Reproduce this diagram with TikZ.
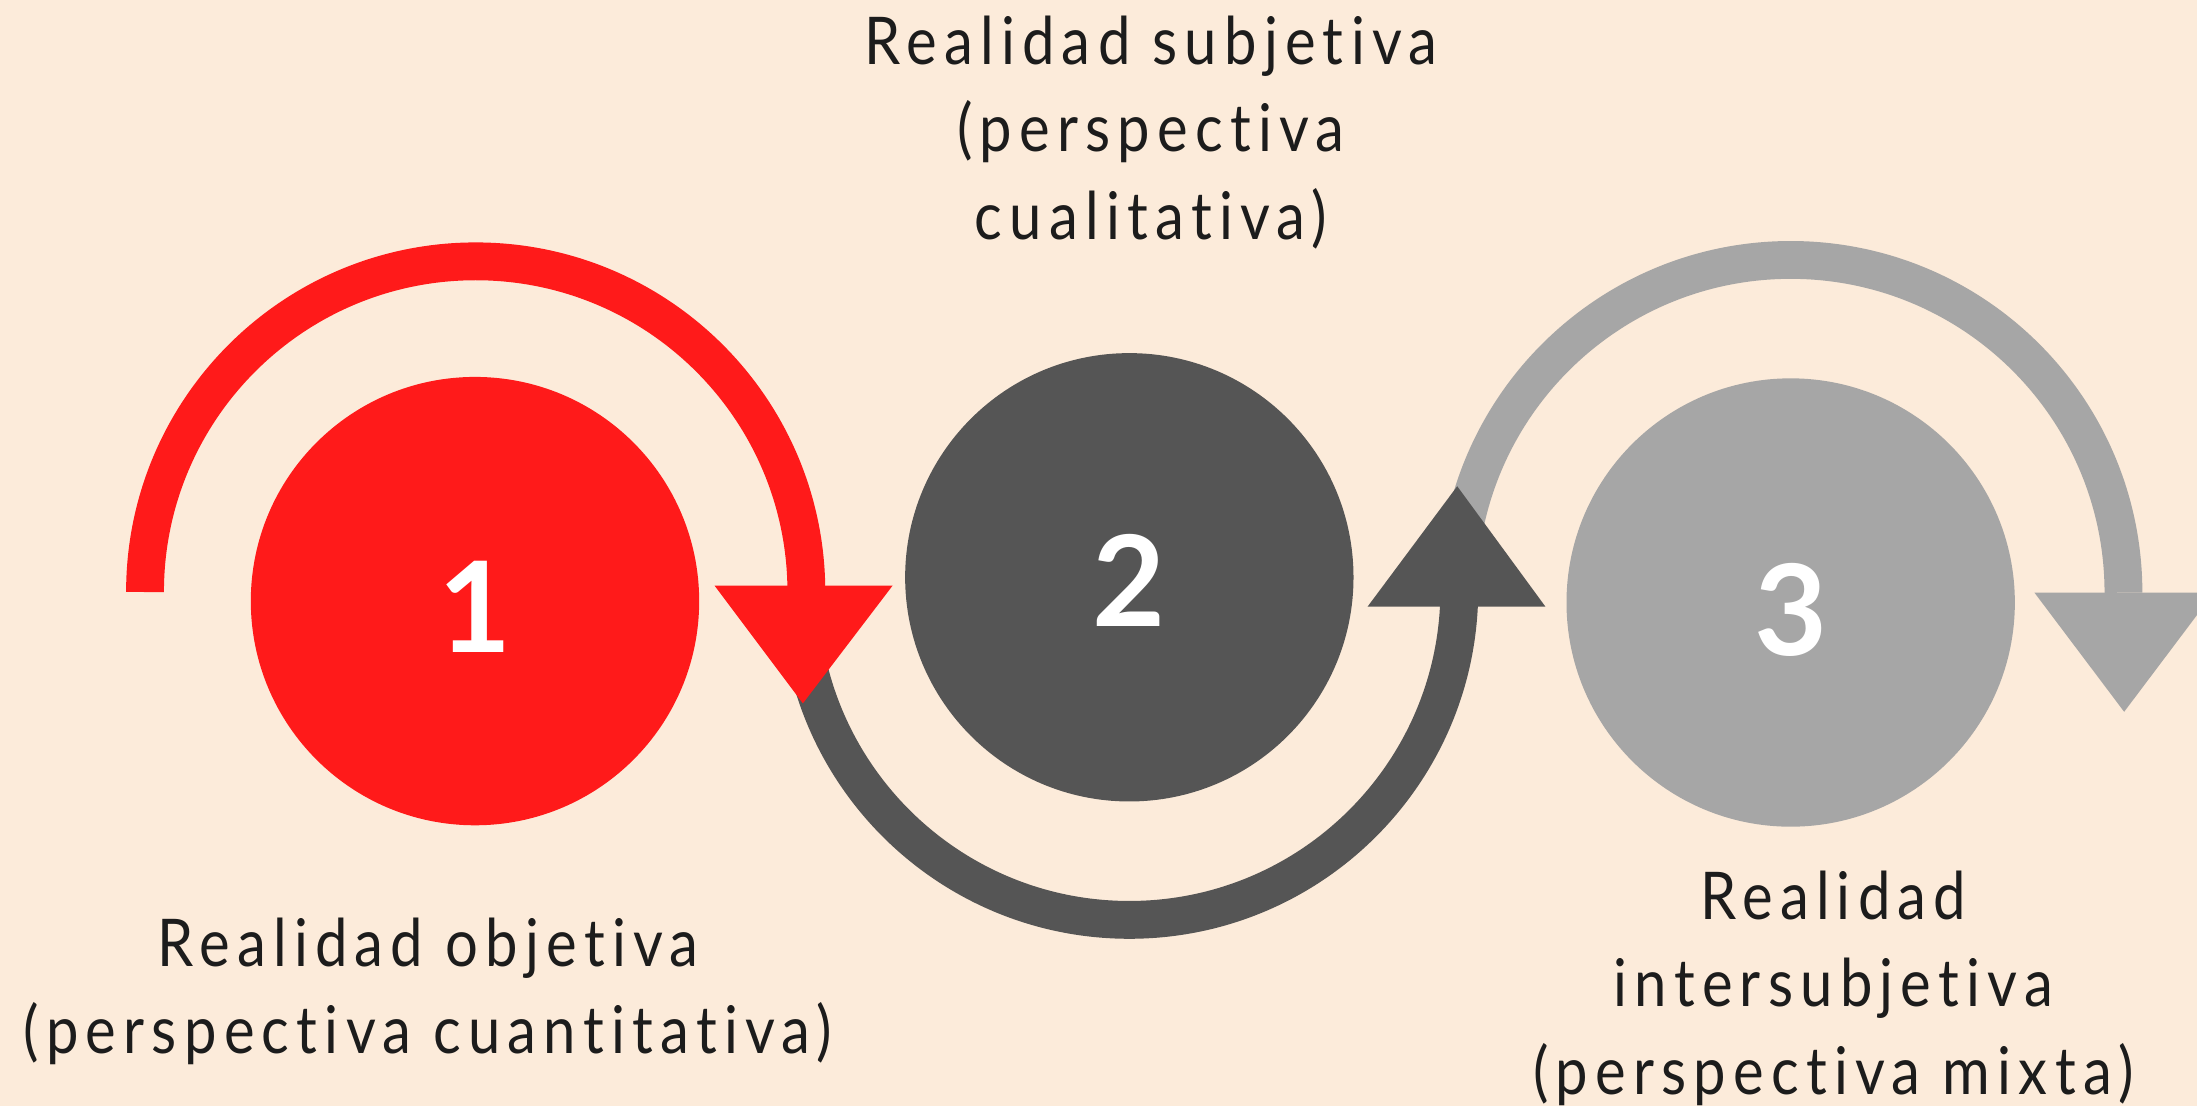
\documentclass[tikz,border=0pt]{standalone}
\usepackage{fontspec}
\setmainfont{Lato}
\newfontfamily\lblfont[Ligatures=NoCommon,FakeStretch=0.88,LetterSpace=11]{Lato}
\definecolor{bgc}{HTML}{FCEBDA}
\definecolor{redc}{HTML}{FF1A1A}
\definecolor{darkc}{HTML}{555555}
\definecolor{grayc}{HTML}{A6A6A6}
\definecolor{txtc}{HTML}{1C1C1C}
\begin{document}
\begin{tikzpicture}[x=0.5pt,y=-0.5pt,
  disc/.style={circle,inner sep=0pt,minimum size=160pt},
  digit/.style={text=white,font=\fontsize{45}{45}\selectfont\bfseries,inner sep=0pt},
  band/.style={line width=13.5pt},
  lbl/.style={text=txtc,align=center,font=\lblfont\fontsize{23.5}{31.2}\selectfont,inner sep=0pt,anchor=base}]
\fill[bgc] (0,0) rectangle (1568,789.4);
\useasboundingbox (0,0) rectangle (1568,789.4);
% circles
\node[disc,fill=redc] (c1) at (339,429) {};
\node[disc,fill=darkc] (c2) at (806,412) {};
\node[disc,fill=grayc] (c3) at (1278,430) {};
\node[digit] (n1) at (339,433) {1};
\node[digit] (n2) at (806,414.5) {2};
\node[digit] (n3) at (1278,435) {3};
% gray arrow
\coordinate (g0) at (1040.5,423);
\draw[band,grayc] (g0) arc[start angle=180,end angle=360,radius=237.5];
\fill[grayc] (1452,423) -- (1580,423) -- (1516,508) -- cycle;
% dark arrow
\coordinate (d0) at (570.5,421);
\draw[band,darkc] (d0) arc[start angle=180,end angle=0,radius=235.5];
\fill[darkc] (976,433) -- (1103,433) -- (1040,347) -- cycle;
% red arrow
\coordinate (r0) at (103.5,422.5);
\draw[band,redc] (r0) arc[start angle=180,end angle=360,radius=236];
\fill[redc] (510,418) -- (637,418) -- (573,502) -- cycle;
% labels
\node[lbl] (t2) at (821.5,170.7) {Realidad subjetiva\\(perspectiva\\cualitativa)};
\node[lbl] (t1) at (305.5,752) {Realidad objetiva\\(perspectiva cuantitativa)};
\node[lbl] (t3) at (1308.5,781) {Realidad\\intersubjetiva\\(perspectiva mixta)};
\end{tikzpicture}
\end{document}
